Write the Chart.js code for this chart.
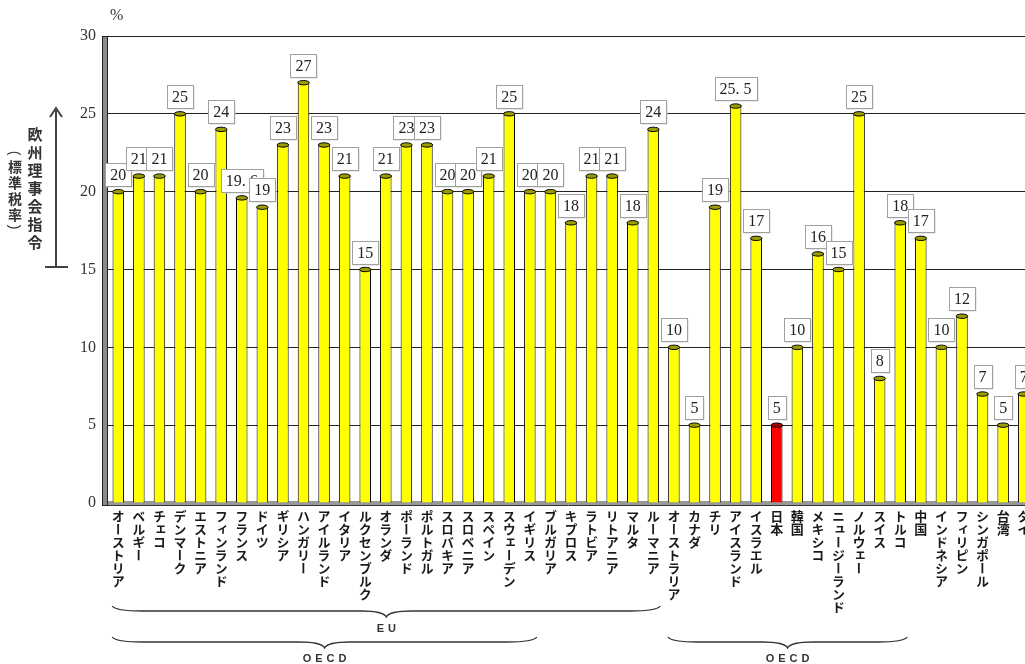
<!DOCTYPE html>
<html><head><meta charset="utf-8">
<script src="https://cdn.jsdelivr.net/npm/chart.js@4/dist/chart.umd.min.js"></script>
<style>
html,body{margin:0;padding:0;background:#fff;overflow:hidden;}
#wrap{position:relative;width:1025px;height:664px;overflow:hidden;background:#fff;}
#c{position:absolute;left:0;top:0;}
.xl{position:absolute;top:510px;writing-mode:vertical-rl;font-family:"Noto Sans CJK JP";font-weight:700;font-size:13px;line-height:13px;color:#1a1a1a;transform:translateX(-50%);white-space:nowrap;}
.note{position:absolute;writing-mode:vertical-rl;font-family:"Noto Sans CJK JP";font-weight:700;color:#333;white-space:nowrap;transform:translateX(-50%);}
.stack{position:absolute;display:flex;flex-direction:column;align-items:center;font-family:"Noto Sans CJK JP";font-weight:700;font-size:14px;line-height:16px;color:#333;transform:translateX(-50%);}
.stack span{display:block;height:16px;}
.stack span.p{transform:rotate(90deg);height:10px;line-height:10px;font-family:"Liberation Sans";font-weight:400;}
.grp{position:absolute;font-family:"Liberation Sans";font-weight:700;font-size:11px;letter-spacing:4px;color:#333;transform:translateX(-50%);white-space:nowrap;}
.pct{position:absolute;left:110px;top:6px;font-family:"Liberation Serif";font-size:16px;color:#333;}
</style></head><body>
<div id="wrap">
<canvas id="c" width="1045" height="664"></canvas>
<div class="pct">%</div>
<div class="note" style="left:35px;top:127px;font-size:15px;letter-spacing:3px;">欧州理事会指令</div>
<div class="stack" style="left:15px;top:148px;"><span class="p">(</span><span>標</span><span>準</span><span>税</span><span>率</span><span class="p">)</span></div>
</div>
<script>
// ---- data ----
const categories = ['オーストリア','ベルギー','チェコ','デンマーク','エストニア','フィンランド','フランス','ドイツ','ギリシア','ハンガリー','アイルランド','イタリア','ルクセンブルク','オランダ','ポーランド','ポルトガル','スロバキア','スロベニア','スペイン','スウェーデン','イギリス','ブルガリア','キプロス','ラトビア','リトアニア','マルタ','ルーマニア','オーストラリア','カナダ','チリ','アイスランド','イスラエル','日本','韓国','メキシコ','ニュージーランド','ノルウェー','スイス','トルコ','中国','インドネシア','フィリピン','シンガポール','台湾','タイ'];
const taxRates = [20,21,21,25,20,24,19.6,19,23,27,23,21,15,21,23,23,20,20,21,25,20,20,18,21,21,18,24,10,5,19,25.5,17,5,10,16,15,25,8,18,17,10,12,7,5,7];
const yTickValues = [0,5,10,15,20,25,30];
const highlightCategory = '日本';
const groupLabels = ['EU','OECD','OECD'];
const groupFirst = ['オーストリア','オーストリア','オーストラリア'];
const groupLast = ['ルーマニア','イギリス','トルコ'];

const fmt = v => Number.isInteger(v) ? String(v) : String(v).replace('.', '. ');

const decoPlugin = {
  id: 'deco',
  beforeDatasetsDraw(chart) {
    const {ctx, chartArea: a} = chart;
    ctx.save();
    ctx.fillStyle = '#999';
    ctx.fillRect(a.left - 5, a.bottom - 2, a.right - a.left + 5, 4);
    ctx.strokeStyle = '#333'; ctx.lineWidth = 1;
    ctx.beginPath(); ctx.moveTo(a.left - 5, a.bottom + 2.5); ctx.lineTo(a.right, a.bottom + 2.5); ctx.stroke();
    ctx.fillStyle = '#8a8a8a';
    ctx.fillRect(a.left - 5, a.top, 5, a.bottom - a.top + 2);
    ctx.strokeStyle = '#222';
    ctx.strokeRect(a.left - 5.5, a.top + 0.5, 5, a.bottom - a.top + 2);
    ctx.restore();
  },
  afterDatasetsDraw(chart) {
    const {ctx} = chart;
    const meta = chart.getDatasetMeta(0);
    ctx.save();
    meta.data.forEach((bar, i) => {
      const w = bar.width;
      ctx.beginPath();
      ctx.ellipse(bar.x, bar.y, w / 2, 2.2, 0, 0, Math.PI * 2);
      ctx.fillStyle = categories[i] === highlightCategory ? '#a00000' : '#9c9c00';
      ctx.fill();
      ctx.strokeStyle = '#000'; ctx.lineWidth = 1; ctx.stroke();
    });
    ctx.font = '16px "Liberation Serif"';
    ctx.textAlign = 'center'; ctx.textBaseline = 'middle';
    meta.data.forEach((bar, i) => {
      const t = fmt(taxRates[i]);
      const tw = ctx.measureText(t).width;
      const bw = Math.round(tw + 10), bh = 23;
      const bx = Math.round(bar.x - bw / 2) + 0.5, by = Math.round(bar.y - 6 - bh) + 0.5;
      ctx.fillStyle = '#d8d8d8';
      ctx.fillRect(bx + 1, by + 1, bw, bh);
      ctx.fillStyle = '#fff';
      ctx.fillRect(bx, by, bw, bh);
      ctx.strokeStyle = '#a0a0a0'; ctx.lineWidth = 1;
      ctx.strokeRect(bx, by, bw, bh);
      ctx.fillStyle = '#222';
      ctx.fillText(t, bar.x, by + bh / 2 + 1);
    });
    ctx.restore();
  },
  afterDraw(chart) {
    const {ctx} = chart;
    const x = chart.scales.x;
    ctx.save();
    ctx.strokeStyle = '#444'; ctx.lineWidth = 2;
    ctx.beginPath(); ctx.moveTo(56, 108); ctx.lineTo(56, 267); ctx.stroke();
    ctx.beginPath(); ctx.moveTo(50, 117); ctx.lineTo(56, 108); ctx.lineTo(62, 117); ctx.stroke();
    ctx.beginPath(); ctx.moveTo(45, 267); ctx.lineTo(68, 267); ctx.stroke();
    const brace = (x1, x2, yEnd, yFlat, yTip) => {
      const xm = (x1 + x2) / 2;
      ctx.beginPath();
      ctx.moveTo(x1, yEnd);
      ctx.quadraticCurveTo(x1 + 3, yFlat, x1 + 30, yFlat);
      ctx.lineTo(xm - 25, yFlat);
      ctx.quadraticCurveTo(xm - 3, yFlat, xm, yTip);
      ctx.quadraticCurveTo(xm + 3, yFlat, xm + 25, yFlat);
      ctx.lineTo(x2 - 30, yFlat);
      ctx.quadraticCurveTo(x2 - 3, yFlat, x2, yEnd);
      ctx.stroke();
    };
    ctx.lineWidth = 1.3; ctx.strokeStyle = '#333';
    const ys = [[606, 611, 617], [637, 642, 648], [637, 642, 648]];
    groupLabels.forEach((g, k) => {
      const x1 = x.getPixelForValue(categories.indexOf(groupFirst[k])) - 6;
      const x2 = x.getPixelForValue(categories.indexOf(groupLast[k])) + 7;
      brace(x1, x2, ...ys[k]);
    });
    ctx.restore();
  }
};

const chart = new Chart(document.getElementById('c'), {
  type: 'bar',
  data: {
    labels: categories,
    datasets: [{
      data: taxRates,
      backgroundColor: c => categories[c.dataIndex] === highlightCategory ? '#ff0000' : '#ffff00',
      borderColor: '#000',
      borderWidth: 1,
      barPercentage: 0.56,
      categoryPercentage: 1
    }]
  },
  options: {
    responsive: false,
    animation: false,
    devicePixelRatio: 1,
    layout: {padding: {left: 0, right: 11, top: 36, bottom: 0}},
    plugins: {legend: {display: false}, tooltip: {enabled: false}},
    scales: {
      x: {
        grid: {display: false},
        border: {display: false},
        ticks: {display: false},
        afterFit: s => { s.height = 161; }
      },
      y: {
        min: 0, max: 30,
        afterFit: s => { s.width = 108; },
        afterBuildTicks: s => { s.ticks = yTickValues.map(v => ({value: v})); },
        border: {display: false},
        grid: {color: '#222', lineWidth: 1, drawTicks: false},
        ticks: {padding: 12, color: '#333', font: {family: 'Liberation Serif', size: 16}}
      }
    }
  },
  plugins: [decoPlugin]
});

const wrap = document.getElementById('wrap');
const xs = chart.scales.x;
categories.forEach((c, i) => {
  const d = document.createElement('div');
  d.className = 'xl';
  d.textContent = c;
  d.style.left = xs.getPixelForValue(i) + 'px';
  wrap.appendChild(d);
});
const gy = [622, 652, 652];
groupLabels.forEach((g, k) => {
  const x1 = xs.getPixelForValue(categories.indexOf(groupFirst[k])) - 6;
  const x2 = xs.getPixelForValue(categories.indexOf(groupLast[k])) + 7;
  const d = document.createElement('div');
  d.className = 'grp';
  d.textContent = g;
  d.style.left = ((x1 + x2) / 2 + 2) + 'px';
  d.style.top = gy[k] + 'px';
  wrap.appendChild(d);
});
</script>
</body></html>
